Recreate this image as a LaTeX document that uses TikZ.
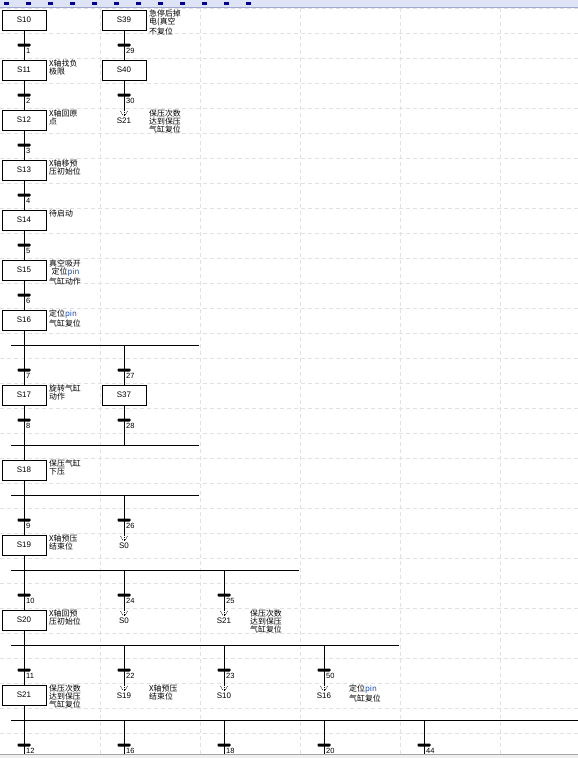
\documentclass[tikz,border=0pt]{standalone}
\usepackage{fontspec}
\setmainfont{Liberation Sans}
\newfontfamily\cjk{Noto Sans CJK SC}
\definecolor{pinblue}{RGB}{30,80,190}
\definecolor{gridgray}{RGB}{225,225,225}
\definecolor{headbg}{RGB}{222,227,245}
\definecolor{headln}{RGB}{160,168,205}
\newcommand\tr[4]{\node[tbar] (#1) at (#2,#3) {};\node[tlab] (#1l) at ([xshift=2pt,yshift=-3pt]#1.center) {#4};}
\newcommand\jarr[1]{\draw[jarrow] (#1) -- ++(0,6);\draw[jarrow] (#1) ++(-3.5,1) -- ++(2.5,4.5);\draw[jarrow] (#1) ++(3.5,1) -- ++(-2.5,4.5);}
\begin{document}
\begin{tikzpicture}[x=1pt,y=-1pt,
 stepbox/.style={draw=black,line width=1pt,fill=white,minimum width=44pt,minimum height=20pt,inner sep=0pt,font=\fontsize{8}{8}\selectfont},
 tbar/.style={fill=black,minimum width=13pt,minimum height=3pt,inner sep=0pt,rounded corners=0.8pt},
 tlab/.style={anchor=north west,inner sep=0pt,font=\fontsize{7.5}{7.5}\selectfont},
 jlab/.style={inner sep=0pt,font=\fontsize{8}{8}\selectfont},
 cmt/.style={anchor=north west,inner sep=0pt,align=left,font=\cjk\fontsize{7.9}{8}\selectfont},
 wire/.style={line width=0.8pt},
 jarrow/.style={line width=0.5pt,dash pattern=on 1pt off 0.8pt},
 gridl/.style={draw=gridgray,line width=0.6pt,dash pattern=on 4pt off 3pt}]
\useasboundingbox (0,0) rectangle (578,758);
\fill[white] (0,0) rectangle (578,758);
% grid
\foreach \x in {100,200,300,400,500} {\draw[gridl] (\x,8) -- (\x,758);}
\foreach \k in {0,...,29} {\pgfmathsetmacro\yy{8.3+25*\k}\draw[gridl] (0,\yy) -- (578,\yy);}
% header bar
\fill[headbg] (0,0) rectangle (578,7);
\draw[headln,line width=0.8pt] (0,7) -- (578,7);
\foreach \x in {4,26,48,70,92,114,136,158,180,202,224,246} {\fill[blue!55!black] (\x,2) rectangle ++(5,3);}
% bottom bar
\fill[black!6] (0,754) rectangle (578,758);
\draw[black!35,line width=0.6pt] (0,754) -- (578,754);

% steps column 1
\node[stepbox] (s10) at (24,20) {S10};
\node[stepbox] (s11) at (24,70) {S11};
\node[stepbox] (s12) at (24,120) {S12};
\node[stepbox] (s13) at (24,170) {S13};
\node[stepbox] (s14) at (24,220) {S14};
\node[stepbox] (s15) at (24,270) {S15};
\node[stepbox] (s16) at (24,320) {S16};
\node[stepbox] (s17) at (24,395) {S17};
\node[stepbox] (s18) at (24,470) {S18};
\node[stepbox] (s19) at (24,545) {S19};
\node[stepbox] (s20) at (24,620) {S20};
\node[stepbox] (s21) at (24,695) {S21};
% steps column 2
\node[stepbox] (s39) at (124,20) {S39};
\node[stepbox] (s40) at (124,70) {S40};
\node[stepbox] (s37) at (124,395) {S37};

% jump labels
\node[jlab] (j1) at (124,121) {S21};
\node[jlab] (j2) at (124,546) {S0};
\node[jlab] (j3) at (124,621) {S0};
\node[jlab] (j4) at (224,621) {S21};
\node[jlab] (j5) at (124,696) {S19};
\node[jlab] (j6) at (224,696) {S10};
\node[jlab] (j7) at (324,696) {S16};
\coordinate (ja1) at (124,110);
\coordinate (ja2) at (124,535);
\coordinate (ja3) at (124,610);
\coordinate (ja4) at (224,610);
\coordinate (ja5) at (124,685);
\coordinate (ja6) at (224,685);
\coordinate (ja7) at (324,685);

% divergence / convergence points
\coordinate (d1L) at (11,345); \coordinate (d1R) at (199,345);
\coordinate (d1a) at (24,345); \coordinate (d1b) at (124,345);
\coordinate (d2L) at (11,445); \coordinate (d2R) at (199,445);
\coordinate (d2a) at (24,445); \coordinate (d2b) at (124,445);
\coordinate (d3L) at (11,495); \coordinate (d3R) at (199,495);
\coordinate (d3a) at (24,495); \coordinate (d3b) at (124,495);
\coordinate (d4L) at (11,570); \coordinate (d4R) at (299,570);
\coordinate (d4a) at (24,570); \coordinate (d4b) at (124,570); \coordinate (d4c) at (224,570);
\coordinate (d5L) at (11,645); \coordinate (d5R) at (399,645);
\coordinate (d5a) at (24,645); \coordinate (d5b) at (124,645); \coordinate (d5c) at (224,645); \coordinate (d5d) at (324,645);
\coordinate (d6L) at (11,720); \coordinate (d6R) at (578,720);
\coordinate (d6a) at (24,720); \coordinate (d6b) at (124,720); \coordinate (d6c) at (224,720); \coordinate (d6d) at (324,720); \coordinate (d6e) at (424,720);
\coordinate (b1) at (24,754); \coordinate (b2) at (124,754); \coordinate (b3) at (224,754); \coordinate (b4) at (324,754); \coordinate (b5) at (424,754);

% wires
\begin{scope}[wire]
\draw (s10) -- (s11); \draw (s11) -- (s12); \draw (s12) -- (s13);
\draw (s13) -- (s14); \draw (s14) -- (s15); \draw (s15) -- (s16);
\draw (s39) -- (s40); \draw (s40) -- (ja1);
\draw (s16) -- (d1a); \draw (d1L) -- (d1R);
\draw (d1a) -- (s17); \draw (d1b) -- (s37);
\draw (s17) -- (d2a); \draw (s37) -- (d2b); \draw (d2L) -- (d2R);
\draw (d2a) -- (s18); \draw (s18) -- (d3a); \draw (d3L) -- (d3R);
\draw (d3a) -- (s19); \draw (d3b) -- (ja2);
\draw (s19) -- (d4a); \draw (d4L) -- (d4R);
\draw (d4a) -- (s20); \draw (d4b) -- (ja3); \draw (d4c) -- (ja4);
\draw (s20) -- (d5a); \draw (d5L) -- (d5R);
\draw (d5a) -- (s21); \draw (d5b) -- (ja5); \draw (d5c) -- (ja6); \draw (d5d) -- (ja7);
\draw (s21) -- (d6a); \draw (d6L) -- (d6R);
\draw (d6a) -- (b1); \draw (d6b) -- (b2); \draw (d6c) -- (b3); \draw (d6d) -- (b4); \draw (d6e) -- (b5);
\end{scope}
\jarr{ja1}\jarr{ja2}\jarr{ja3}\jarr{ja4}\jarr{ja5}\jarr{ja6}\jarr{ja7}

% transitions
\tr{t1}{24}{45}{1} \tr{t2}{24}{95}{2} \tr{t3}{24}{145}{3} \tr{t4}{24}{195}{4}
\tr{t5}{24}{245}{5} \tr{t6}{24}{295}{6} \tr{t7}{24}{370}{7} \tr{t8}{24}{420}{8}
\tr{t9}{24}{520}{9} \tr{t10}{24}{595}{10} \tr{t11}{24}{670}{11} \tr{t12}{24}{745}{12}
\tr{t29}{124}{45}{29} \tr{t30}{124}{95}{30} \tr{t27}{124}{370}{27} \tr{t28}{124}{420}{28}
\tr{t26}{124}{520}{26} \tr{t24}{124}{595}{24} \tr{t22}{124}{670}{22} \tr{t16}{124}{745}{16}
\tr{t25}{224}{595}{25} \tr{t23}{224}{670}{23} \tr{t18}{224}{745}{18}
\tr{t50}{324}{670}{50} \tr{t20}{324}{745}{20}
\tr{t44}{424}{745}{44}

% comments
\node[cmt] (c39) at (149,10) {急停后掉\\电(真空\\不复位};
\node[cmt] (c11) at (49,60) {X轴找负\\极限};
\node[cmt] (c12) at (49,110) {X轴回原\\点};
\node[cmt] (cj1) at (149,110) {保压次数\\达到保压\\气缸复位};
\node[cmt] (c13) at (49,160) {X轴移预\\压初始位};
\node[cmt] (c14) at (49,210) {待启动};
\node[cmt] (c15) at (49,260) {真空吸开\\\hspace*{2.5pt}定位\textcolor{pinblue}{pin}\\气缸动作};
\node[cmt] (c16) at (49,310) {定位\textcolor{pinblue}{pin}\\气缸复位};
\node[cmt] (c17) at (49,385) {旋转气缸\\动作};
\node[cmt] (c18) at (49,460) {保压气缸\\下压};
\node[cmt] (c19) at (49,535) {X轴预压\\结束位};
\node[cmt] (c20) at (49,610) {X轴回预\\压初始位};
\node[cmt] (cj4) at (250,610) {保压次数\\达到保压\\气缸复位};
\node[cmt] (c21) at (49,685) {保压次数\\达到保压\\气缸复位};
\node[cmt] (cj5) at (149,685) {X轴预压\\结束位};
\node[cmt] (cj7) at (349,685) {定位\textcolor{pinblue}{pin}\\气缸复位};
\end{tikzpicture}
\end{document}
